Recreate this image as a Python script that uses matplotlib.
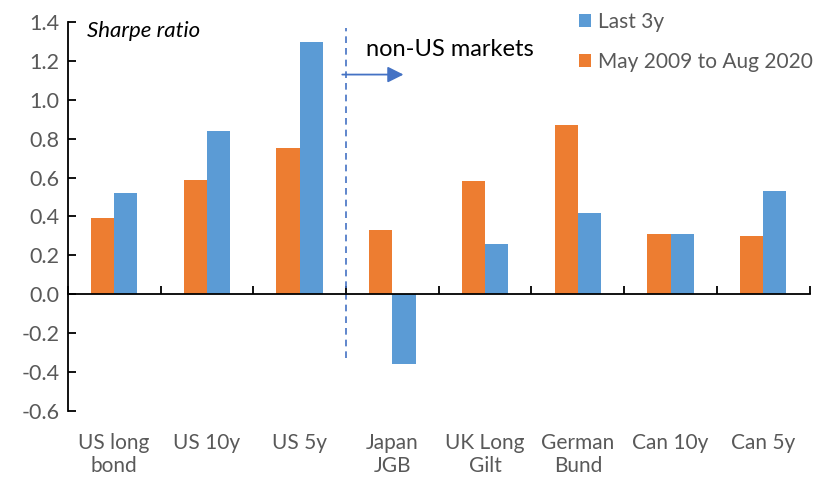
import numpy as np
import matplotlib
matplotlib.use("Agg")
import matplotlib.pyplot as plt

plt.rcParams['font.family'] = ['Lato', 'DejaVu Sans']

categories = ['US long\nbond', 'US 10y', 'US 5y', 'Japan\nJGB', 'UK Long\nGilt',
              'German\nBund', 'Can 10y', 'Can 5y']
full_period = [0.39, 0.59, 0.75, 0.33, 0.58, 0.87, 0.31, 0.30]   # May 2009 to Aug 2020
last_3y = [0.52, 0.84, 1.30, -0.36, 0.26, 0.42, 0.31, 0.53]
yticks = [-0.6, -0.4, -0.2, 0.0, 0.2, 0.4, 0.6, 0.8, 1.0, 1.2, 1.4]

orange = '#ED7D31'
blue = '#5B9BD5'
grey = '#595959'

fig = plt.figure(figsize=(8.17, 4.80), dpi=100)
ax = fig.add_axes([0.083, 0.144, 0.908, 0.810])

x = np.arange(len(categories))
w = 0.25
ax.bar(x - w/2, full_period, w, color=orange, label='May 2009 to Aug 2020')
ax.bar(x + w/2, last_3y, w, color=blue, label='Last 3y')

ax.set_xlim(-0.5, len(categories) - 0.5)
ax.set_ylim(-0.6, 1.4)
ax.set_yticks(yticks)
ax.set_yticklabels(['%.1f' % v for v in yticks])

# axes styling (Excel look)
ax.spines['top'].set_visible(False)
ax.spines['right'].set_visible(False)
ax.spines['bottom'].set_position(('data', 0))
ax.spines['left'].set_linewidth(1.3)
ax.spines['bottom'].set_linewidth(1.3)
ax.set_xticks(np.arange(-0.5, len(categories), 1.0))
ax.set_xticklabels([])
ax.tick_params(axis='x', direction='in', length=6, width=1.3)
ax.tick_params(axis='y', direction='in', length=6, width=1.3, labelsize=15.5,
               labelcolor=grey, pad=6)

for i, lab in enumerate(categories):
    ax.text(i, -0.056, lab, transform=ax.get_xaxis_transform(), ha='center', va='top',
            fontsize=15, color=grey, linespacing=1.2)

# US / non-US divider
ax.plot([2.5, 2.5], [-0.33, 1.37], ls=(0, (4, 3)), color='#4472C4', lw=1.2)
ax.annotate('', xy=(3.15, 1.13), xytext=(2.43, 1.13),
            arrowprops=dict(arrowstyle='-|>', color='#4472C4', lw=1.3,
                            mutation_scale=24))
ax.text(2.72, 1.26, 'non-US markets', fontsize=17, color='black', va='center')
ax.text(-0.29, 1.355, 'Sharpe ratio', fontsize=16, style='italic', color='black',
        va='center')

h, l = ax.get_legend_handles_labels()
leg = fig.legend(h[::-1], l[::-1], loc='upper left', bbox_to_anchor=(0.688, 1.01),
                 frameon=False, fontsize=15, handlelength=0.6, handleheight=0.6,
                 handletextpad=0.3, labelspacing=0.95, borderpad=0.3)
for t in leg.get_texts():
    t.set_color(grey)

plt.savefig('out.png', dpi=100)
